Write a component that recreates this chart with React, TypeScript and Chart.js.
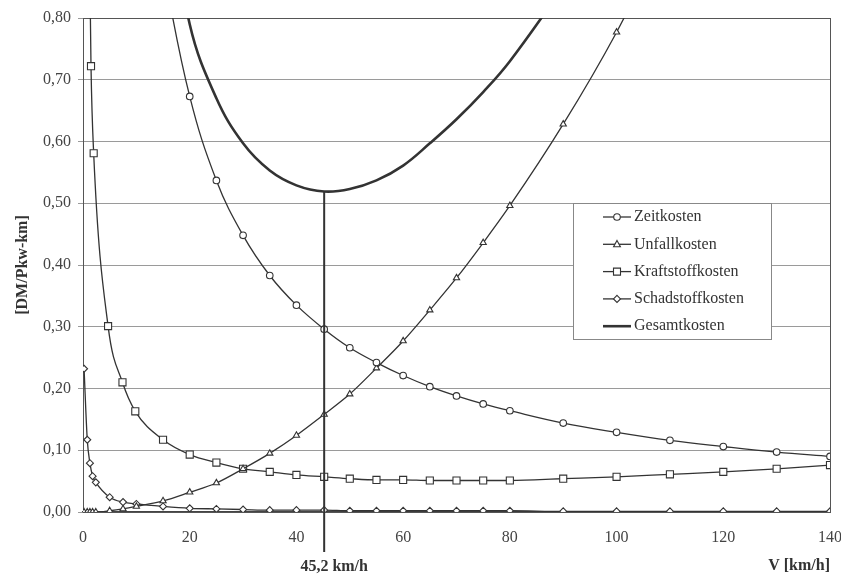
import React, { useEffect, useRef } from 'react';
import { Chart, registerables } from 'chart.js';

Chart.register(...registerables);

// ---- data ----
const X_ZEIT = [15, 20, 25, 30, 35, 40, 45.2, 50, 55, 60, 65, 70, 75, 80, 90, 100, 110, 120, 130, 140];
const Y_ZEIT = [0.88, 0.673, 0.537, 0.448, 0.383, 0.335, 0.296, 0.266, 0.242, 0.221, 0.203, 0.188, 0.175, 0.164, 0.144, 0.129, 0.116, 0.106, 0.097, 0.09];

const X_UNFALL = [0.2, 0.8, 1.3, 1.8, 2.4, 5, 7.5, 10, 15, 20, 25, 30, 35, 40, 45.2, 50, 55, 60, 65, 70, 75, 80, 90, 100, 110];
const Y_UNFALL = [0, 0, 0, 0, 0, 0.002, 0.005, 0.009, 0.018, 0.032, 0.047, 0.07, 0.095, 0.124, 0.158, 0.191, 0.233, 0.277, 0.327, 0.379, 0.436, 0.496, 0.628, 0.777, 0.95];

const X_KRAFT = [1, 1.5, 2, 4.7, 7.4, 9.8, 15, 20, 25, 30, 35, 40, 45.2, 50, 55, 60, 65, 70, 75, 80, 90, 100, 110, 120, 130, 140];
const Y_KRAFT = [1.08, 0.722, 0.581, 0.301, 0.21, 0.163, 0.117, 0.093, 0.08, 0.07, 0.065, 0.06, 0.057, 0.054, 0.052, 0.052, 0.051, 0.051, 0.051, 0.051, 0.054, 0.057, 0.061, 0.065, 0.07, 0.076];

const X_SCHAD = [0.2, 0.8, 1.3, 1.8, 2.4, 5, 7.5, 10, 15, 20, 25, 30, 35, 40, 45.2, 50, 55, 60, 65, 70, 75, 80, 90, 100, 110, 120, 130, 140];
const Y_SCHAD = [0.232, 0.117, 0.079, 0.058, 0.048, 0.024, 0.016, 0.013, 0.009, 0.006, 0.005, 0.004, 0.003, 0.003, 0.003, 0.002, 0.002, 0.002, 0.002, 0.002, 0.002, 0.002, 0.001, 0.001, 0.001, 0.001, 0.001, 0.001];

const X_GESAMT = [15, 20, 25, 30, 35, 40, 45.2, 50, 55, 60, 65, 70, 75, 80, 90];
const Y_GESAMT = [1.04, 0.79, 0.67, 0.597, 0.553, 0.529, 0.519, 0.523, 0.537, 0.561, 0.597, 0.636, 0.68, 0.73, 0.85];

const SERIES_LABELS = ['Zeitkosten', 'Unfallkosten', 'Kraftstoffkosten', 'Schadstoffkosten', 'Gesamtkosten'];
const OPT_SPEED = 45.2;
const OPT_LABEL = '45,2 km/h';
const X_TITLE = 'V [km/h]';
const Y_TITLE = '[DM/Pkw-km]';
const X_TICKS = [0, 20, 40, 60, 80, 100, 120, 140];
const Y_TICKS = [0, 0.1, 0.2, 0.3, 0.4, 0.5, 0.6, 0.7, 0.8];

const FONT = "'Liberation Serif', 'Times New Roman', Times, serif";
const INK = '#333333';

function pts(xs: number[], ys: number[]) {
  return xs.map((x, i) => ({ x, y: ys[i] }));
}

function drawMarker(ctx: CanvasRenderingContext2D, style: string, x: number, y: number) {
  ctx.save();
  ctx.beginPath();
  if (style === 'circle') {
    ctx.arc(x, y, 3.3, 0, Math.PI * 2);
  } else if (style === 'triangle') {
    ctx.moveTo(x, y - 3.8);
    ctx.lineTo(x + 3.4, y + 2.4);
    ctx.lineTo(x - 3.4, y + 2.4);
    ctx.closePath();
  } else if (style === 'rect') {
    ctx.rect(x - 3.5, y - 3.5, 7, 7);
  } else if (style === 'rectRot') {
    ctx.moveTo(x, y - 3.5);
    ctx.lineTo(x + 3.5, y);
    ctx.lineTo(x, y + 3.5);
    ctx.lineTo(x - 3.5, y);
    ctx.closePath();
  }
  ctx.fillStyle = '#fff';
  ctx.fill();
  ctx.lineWidth = 1.1;
  ctx.strokeStyle = INK;
  ctx.stroke();
  ctx.restore();
}

export default function App() {
  const ref = useRef<HTMLCanvasElement>(null);

  useEffect(() => {
    if (!ref.current) return;

    const decor = {
      id: 'decor',
      beforeDatasetsDraw(chart: any) {
        const { ctx, chartArea: a } = chart;
        ctx.save();
        ctx.strokeStyle = '#555';
        ctx.lineWidth = 1;
        ctx.strokeRect(Math.round(a.left) + 0.5, Math.round(a.top) + 0.5, Math.round(a.right - a.left), Math.round(a.bottom - a.top));
        ctx.restore();
      },
      afterDraw(chart: any) {
        const { ctx, chartArea: a, scales } = chart;
        const xs = scales.x, ys = scales.y;
        // optimum vertical line
        const xv = xs.getPixelForValue(OPT_SPEED);
        const idx = X_GESAMT.indexOf(OPT_SPEED);
        const yTop = ys.getPixelForValue(Y_GESAMT[idx]);
        ctx.save();
        ctx.strokeStyle = INK;
        ctx.lineWidth = 2;
        ctx.beginPath();
        ctx.moveTo(xv, yTop);
        ctx.lineTo(xv, a.bottom + 40);
        ctx.stroke();
        ctx.fillStyle = INK;
        ctx.font = `bold 16px ${FONT}`;
        ctx.textAlign = 'center';
        ctx.textBaseline = 'middle';
        ctx.fillText(OPT_LABEL, xv + 10, a.bottom + 55);

        // legend box
        const bx = 573, by = 203, bw = 198, bh = 136;
        ctx.fillStyle = '#fff';
        ctx.fillRect(bx, by, bw, bh);
        ctx.strokeStyle = '#888';
        ctx.lineWidth = 1;
        ctx.strokeRect(bx + 0.5, by + 0.5, bw, bh);
        chart.data.datasets.forEach((ds: any, i: number) => {
          const ry = by + 14 + i * 27.3;
          ctx.strokeStyle = INK;
          ctx.lineWidth = ds.borderWidth;
          ctx.beginPath();
          ctx.moveTo(603, ry);
          ctx.lineTo(631, ry);
          ctx.stroke();
          if (ds.pointRadius > 0) drawMarker(ctx, ds.pointStyle, 617, ry);
          ctx.fillStyle = INK;
          ctx.font = `16px ${FONT}`;
          ctx.textAlign = 'left';
          ctx.textBaseline = 'middle';
          ctx.fillText(ds.label, 634, ry);
        });
        ctx.restore();
      },
    };

    const mk = (label: string, xs: number[], ys: number[], style: string, radius: number, width: number, mono: boolean) => ({
      label,
      data: pts(xs, ys),
      borderColor: INK,
      backgroundColor: '#fff',
      borderWidth: width,
      pointStyle: style,
      pointRadius: radius,
      pointBorderWidth: 1.1,
      pointBackgroundColor: '#fff',
      pointBorderColor: INK,
      cubicInterpolationMode: mono ? 'monotone' : 'default',
      tension: 0.4,
      fill: false,
    });

    const chart = new Chart(ref.current, {
      type: 'line',
      data: {
        datasets: [
          mk(SERIES_LABELS[0], X_ZEIT, Y_ZEIT, 'circle', 3.3, 1.3, false),
          mk(SERIES_LABELS[1], X_UNFALL, Y_UNFALL, 'triangle', 3.6, 1.3, true),
          mk(SERIES_LABELS[2], X_KRAFT, Y_KRAFT, 'rect', 5, 1.3, true),
          mk(SERIES_LABELS[3], X_SCHAD, Y_SCHAD, 'rectRot', 3.5, 1.3, true),
          mk(SERIES_LABELS[4], X_GESAMT, Y_GESAMT, 'circle', 0, 2.6, false),
        ],
      },
      options: {
        responsive: false,
        animation: false,
        devicePixelRatio: 1,
        layout: { padding: { top: 18, right: 11, left: 0, bottom: 0 } },
        plugins: { legend: { display: false }, tooltip: { enabled: false } },
        scales: {
          x: {
            type: 'linear',
            min: 0,
            max: 140,
            afterBuildTicks: (s: any) => { s.ticks = X_TICKS.map((v) => ({ value: v })); },
            afterFit: (s: any) => { s.height = 67; s.paddingLeft = 0; s.paddingRight = 0; },
            grid: { display: false, drawTicks: false },
            border: { display: true, color: '#444', width: 1.2 },
            ticks: {
              color: '#444',
              font: { family: FONT, size: 16 },
              padding: 16,
              maxRotation: 0,
              autoSkip: false,
              callback: (v: any) => String(v),
            },
            title: {
              display: true,
              text: X_TITLE,
              align: 'end',
              color: INK,
              font: { family: FONT, size: 16, weight: 'bold' },
              padding: { top: 0, bottom: 4 },
            },
          },
          y: {
            type: 'linear',
            min: 0,
            max: 0.8,
            afterBuildTicks: (s: any) => { s.ticks = Y_TICKS.map((v) => ({ value: v })); },
            afterFit: (s: any) => { s.width = 83; s.paddingTop = 0; s.paddingBottom = 0; },
            grid: { color: '#9a9a9a', lineWidth: 1, tickLength: 5, drawTicks: true },
            border: { display: true, color: '#666', width: 1 },
            ticks: {
              color: '#444',
              font: { family: FONT, size: 16 },
              padding: 7,
              autoSkip: false,
              callback: (v: any) => Number(v).toFixed(2).replace('.', ','),
            },
            title: {
              display: true,
              text: Y_TITLE,
              color: INK,
              font: { family: FONT, size: 16, weight: 'bold' },
              padding: { top: 13, bottom: 0 },
            },
          },
        },
      },
      plugins: [decor],
    } as any);

    return () => chart.destroy();
  }, []);

  return (
    <div style={{ position: 'absolute', left: 0, top: 0, width: 841, height: 579, background: '#fff' }}>
      <canvas ref={ref} width={841} height={579} style={{ display: 'block' }} />
    </div>
  );
}
